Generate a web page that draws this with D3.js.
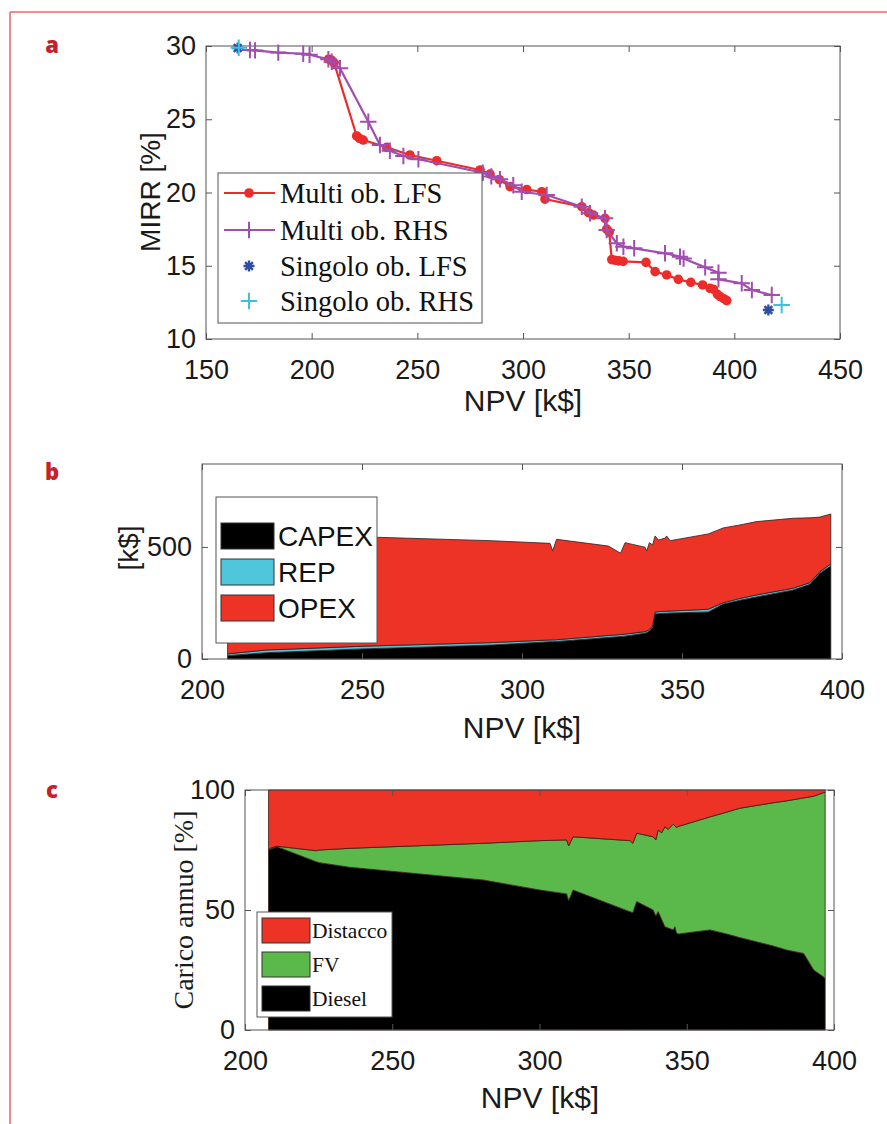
<!DOCTYPE html>
<html>
<head>
<meta charset="utf-8">
<script src="https://cdn.jsdelivr.net/npm/d3@7"></script>
<style>
  body { margin: 0; background: #fff; }
  svg { display: block; }
</style>
</head>
<body>
<svg id="fig" width="887" height="1124"></svg>
<script>
// ---- panel a : MIRR vs NPV ----
const lfsNpv  = [208.0, 209.5, 210.6, 221.3, 222.6, 224.4, 235.5, 246.5, 259.2, 279.7, 284.4, 288.8, 293.9, 301.8, 308.9, 310.4, 327.8, 331.0, 333.3, 338.8, 339.6, 340.8, 342.0, 343.5, 345.3, 347.4, 358.2, 362.5, 368.0, 373.5, 379.4, 385.0, 388.5, 390.1, 392.0, 393.3, 395.0, 396.4];
const lfsMirr = [29.10, 29.02, 28.85, 23.86, 23.70, 23.58, 23.08, 22.56, 22.17, 21.54, 21.26, 20.88, 20.40, 20.20, 20.05, 19.55, 19.03, 18.62, 18.46, 18.24, 17.50, 17.30, 15.42, 15.38, 15.33, 15.30, 15.23, 14.60, 14.37, 14.07, 13.87, 13.69, 13.46, 13.40, 13.05, 12.89, 12.75, 12.62];
const rhsNpv  = [170.8, 173.2, 184.2, 196.0, 199.0, 207.9, 209.5, 213.4, 226.8, 232.3, 237.0, 243.4, 250.5, 281.0, 285.0, 289.1, 295.4, 299.4, 311.2, 327.8, 331.7, 338.8, 339.6, 344.4, 347.5, 352.6, 367.2, 374.3, 376.0, 386.2, 392.5, 392.5, 403.5, 408.3, 417.7];
const rhsMirr = [29.73, 29.70, 29.55, 29.47, 29.40, 29.09, 28.93, 28.48, 24.83, 23.24, 22.85, 22.49, 22.27, 21.35, 21.10, 20.90, 20.50, 20.05, 19.83, 19.03, 18.58, 18.24, 17.44, 16.53, 16.30, 16.19, 15.85, 15.62, 15.50, 14.89, 14.53, 14.07, 13.80, 13.34, 13.00];
const singleLfs = [[165.0, 29.86], [416.1, 11.98]];
const singleRhs = [[165.5, 29.88], [422.4, 12.32]];
const legendA = ["Multi ob. LFS", "Multi ob. RHS", "Singolo ob. LFS", "Singolo ob. RHS"];

// ---- panel b : cost breakdown ----
const bNpv   = [208, 220, 250, 290, 308.75, 309.6, 310.8, 327, 330.8, 332.2, 338.4, 339, 339.8, 340.8, 341.6, 342.6, 344.7, 345.2, 346.3, 358.2, 362.9, 368.1, 373.3, 384.8, 390, 393.1, 396.5];
const bCapex = [15, 28, 45, 62, 77, 77, 78, 96, 100, 102, 115, 118, 125, 140, 201, 202, 204, 204, 205, 210, 245, 262, 277, 308, 333, 383, 415];
const bRep   = [8, 12, 12, 11, 8, 8, 8, 9, 9, 9, 7, 7, 7, 7, 9, 9, 9, 9, 9, 12, 6, 8, 9, 8, 8, 7, 9];
const bOpex  = [537, 515, 488, 455, 431, 398, 448, 399, 363, 408, 377, 358, 387, 362, 339, 320, 326, 336, 314, 336, 334, 328, 327, 312, 289, 243, 223];
const bKeys  = ["CAPEX", "REP", "OPEX"];

// ---- panel c : annual load share ----
const cNpv      = [208, 210.8, 224.2, 225.3, 235.6, 280.9, 300.2, 309.2, 309.9, 311.4, 330.7, 331.7, 333, 338.6, 339.5, 340.3, 341.5, 342.6, 343.7, 345.4, 346, 346.5, 347.1, 357.9, 363.6, 368, 379.4, 384, 389.7, 393.1, 396.4, 397];
const cDiesel   = [75, 76.4, 70.1, 69.7, 67.8, 62.5, 58.3, 56.7, 53.9, 58.3, 49.3, 48.9, 53.5, 50, 47.5, 49.3, 46, 43, 42.5, 41.7, 43, 40.5, 40, 41.7, 40, 38.5, 35, 33.3, 31.9, 25, 22.2, 21.5];
const cFv       = [0.5, 0.2, 4.6, 5.3, 7.9, 15.3, 20.6, 22.5, 22.8, 22.2, 29.6, 28.9, 28.5, 30.5, 31.7, 34, 36.2, 41.7, 41.1, 44.1, 42, 43.9, 44.8, 47.1, 50.8, 53.9, 59.7, 62.2, 64.8, 72.4, 76.7, 77.5];
const cDistacco = [24.5, 23.4, 25.3, 25, 24.3, 22.2, 21.1, 20.8, 23.3, 19.5, 21.1, 22.2, 18, 19.5, 20.8, 16.7, 17.8, 15.3, 16.4, 14.2, 15, 15.6, 15.2, 11.2, 9.2, 7.6, 5.3, 4.5, 3.3, 2.6, 1.1, 1];
const cKeys     = ["Diesel", "FV", "Distacco"];

const svg = d3.select("#fig");
const sans = "'Liberation Sans', Arial, sans-serif";
const serif = "'Liberation Serif', 'Times New Roman', serif";
const axisCol = "#555";
const tickFs = 27;

// red page frame
svg.append("line").attr("x1", 10).attr("y1", 12).attr("x2", 887).attr("y2", 12)
  .attr("stroke", "#e26a6a").attr("stroke-width", 1.5);
svg.append("line").attr("x1", 10).attr("y1", 12).attr("x2", 10).attr("y2", 1124)
  .attr("stroke", "#e26a6a").attr("stroke-width", 1.5);

// panel letters
[["a", 45], ["b", 472], ["c", 790]].forEach(([t, y]) => {
  svg.append("text").attr("x", 52).attr("y", y).attr("dy", "0.35em")
    .attr("text-anchor", "middle").attr("font-family", "'Open Sans', sans-serif")
    .attr("font-weight", "800").attr("font-size", 22).attr("fill", "#c8202a").text(t);
});

// box with inward ticks on all four sides (matlab style)
function drawAxes(x, y, xTicks, yTicks) {
  const [xl, xr] = x.range();
  const [yb, yt] = y.range();
  const fmt = d3.format("d");
  const g = svg.append("g");
  const styleAxis = sel => {
    sel.select(".domain").remove();
    sel.selectAll(".tick line").attr("stroke", axisCol);
    sel.selectAll(".tick text").attr("font-family", sans).attr("font-size", tickFs).attr("fill", "#1a1a1a");
  };
  g.append("g").attr("transform", `translate(0,${yb})`)
    .call(d3.axisBottom(x).tickValues(xTicks).tickSize(-6).tickPadding(21).tickFormat(fmt)).call(styleAxis);
  g.append("g").attr("transform", `translate(0,${yt})`)
    .call(d3.axisTop(x).tickValues(xTicks).tickSize(-6).tickFormat("")).call(styleAxis);
  g.append("g").attr("transform", `translate(${xl},0)`)
    .call(d3.axisLeft(y).tickValues(yTicks).tickSize(-6).tickPadding(10).tickFormat(fmt)).call(styleAxis);
  g.append("g").attr("transform", `translate(${xr},0)`)
    .call(d3.axisRight(y).tickValues(yTicks).tickSize(-6).tickFormat("")).call(styleAxis);
  g.append("rect").attr("x", xl).attr("y", yt).attr("width", xr - xl).attr("height", yb - yt)
    .attr("fill", "none").attr("stroke", axisCol).attr("stroke-width", 1);
  g.selectAll("text").attr("dy", null);
  g.selectAll("g.tick text").each(function() {
    const t = d3.select(this);
    if (t.attr("y") && +t.attr("y") > 0) t.attr("dy", "0.71em"); else t.attr("dy", "0.32em");
  });
}

function axisLabel(txt, x, y, rot, font, fs) {
  svg.append("text").attr("transform", `translate(${x},${y}) rotate(${rot})`)
    .attr("text-anchor", "middle").attr("dy", "0.35em")
    .attr("font-family", font).attr("font-size", fs).attr("fill", "#1a1a1a").text(txt);
}

// ===== panel a =====
{
  const x = d3.scaleLinear().domain([150, 450]).range([206, 840]);
  const y = d3.scaleLinear().domain([10, 30]).range([339, 46]);
  drawAxes(x, y, d3.range(150, 451, 50), [10, 15, 20, 25, 30]);

  const red = "#ec2c2a", purple = "#a24db0";
  const line = d3.line().x(d => x(d[0])).y(d => y(d[1]));
  const lfs = lfsNpv.map((v, i) => [v, lfsMirr[i]]);
  const rhs = rhsNpv.map((v, i) => [v, rhsMirr[i]]);
  const plus = d3.symbol(d3.symbolPlus, 90);

  svg.append("path").datum(lfs).attr("d", line).attr("fill", "none").attr("stroke", red).attr("stroke-width", 2.2);
  svg.selectAll(".lfsDot").data(lfs).join("circle").attr("class", "lfsDot")
    .attr("cx", d => x(d[0])).attr("cy", d => y(d[1])).attr("r", 4.8).attr("fill", red);

  svg.append("path").datum(rhs).attr("d", line).attr("fill", "none").attr("stroke", purple).attr("stroke-width", 2.2);
  svg.selectAll(".rhsPlus").data(rhs).join("path").attr("class", "rhsPlus")
    .attr("transform", d => `translate(${x(d[0])},${y(d[1])})`).attr("d", plus)
    .attr("fill", "none").attr("stroke", purple).attr("stroke-width", 2);

  // 8-arm asterisk
  const star = r => {
    const p = d3.path();
    for (let k = 0; k < 4; k++) {
      const a = k * Math.PI / 4;
      p.moveTo(-r * Math.cos(a), -r * Math.sin(a));
      p.lineTo(r * Math.cos(a), r * Math.sin(a));
    }
    return p.toString();
  };
  svg.selectAll(".sLfs").data(singleLfs).join("path").attr("class", "sLfs")
    .attr("transform", d => `translate(${x(d[0])},${y(d[1])})`).attr("d", star(5.5))
    .attr("fill", "none").attr("stroke", "#2e4ea6").attr("stroke-width", 2.4);
  svg.selectAll(".sRhs").data(singleRhs).join("path").attr("class", "sRhs")
    .attr("transform", d => `translate(${x(d[0])},${y(d[1])})`).attr("d", plus)
    .attr("fill", "none").attr("stroke", "#3dbfe0").attr("stroke-width", 2);

  axisLabel("MIRR [%]", 150, 192, -90, sans, 28);
  axisLabel("NPV [k$]", 523, 400, 0, sans, 30);

  // legend
  const lg = svg.append("g");
  lg.append("rect").attr("x", 218).attr("y", 173).attr("width", 264).attr("height", 150)
    .attr("fill", "#fff").attr("stroke", axisCol);
  const rows = [193, 230, 266, 301];
  legendA.forEach((t, i) => {
    const yy = rows[i];
    if (i === 0) {
      lg.append("line").attr("x1", 224).attr("x2", 275).attr("y1", yy).attr("y2", yy).attr("stroke", red).attr("stroke-width", 2.2);
      lg.append("circle").attr("cx", 249).attr("cy", yy).attr("r", 4.8).attr("fill", red);
    } else if (i === 1) {
      lg.append("line").attr("x1", 224).attr("x2", 275).attr("y1", yy).attr("y2", yy).attr("stroke", purple).attr("stroke-width", 2.2);
      lg.append("path").attr("transform", `translate(249,${yy})`).attr("d", plus).attr("fill", "none").attr("stroke", purple).attr("stroke-width", 2);
    } else if (i === 2) {
      lg.append("path").attr("transform", `translate(249,${yy})`).attr("d", star(5.5)).attr("fill", "none").attr("stroke", "#2e4ea6").attr("stroke-width", 2.4);
    } else {
      lg.append("path").attr("transform", `translate(249,${yy})`).attr("d", plus).attr("fill", "none").attr("stroke", "#3dbfe0").attr("stroke-width", 2);
    }
    lg.append("text").attr("x", 280).attr("y", yy).attr("dy", "0.35em")
      .attr("font-family", serif).attr("font-size", 28.5).attr("fill", "#111").text(t);
  });
}

// ===== panel b =====
{
  const x = d3.scaleLinear().domain([200, 400]).range([202, 842]);
  const y = d3.scaleLinear().domain([0, 870]).range([659, 464]);
  const rowsB = bNpv.map((v, i) => ({ npv: v, CAPEX: bCapex[i], REP: bRep[i], OPEX: bOpex[i] }));
  const series = d3.stack().keys(bKeys)(rowsB);
  const colors = { CAPEX: "#000000", REP: "#4fc6dc", OPEX: "#ec3326" };
  const area = d3.area().x(d => x(d.data.npv)).y0(d => y(d[0])).y1(d => y(d[1]));
  svg.append("g").selectAll("path").data(series).join("path")
    .attr("d", area).attr("fill", d => colors[d.key]).attr("stroke", "#222").attr("stroke-width", 0.8);

  drawAxes(x, y, d3.range(200, 401, 50), [0, 500]);
  axisLabel("[k$]", 128, 548, -90, sans, 28);
  axisLabel("NPV [k$]", 522, 727, 0, sans, 30);

  const lg = svg.append("g");
  lg.append("rect").attr("x", 216).attr("y", 497).attr("width", 161).attr("height", 146)
    .attr("fill", "#fff").attr("stroke", axisCol);
  const ys = [536, 572, 608];
  bKeys.forEach((k, i) => {
    lg.append("rect").attr("x", 221).attr("y", ys[i] - 13).attr("width", 53).attr("height", 26)
      .attr("fill", colors[k]).attr("stroke", "#333").attr("stroke-width", 1);
    lg.append("text").attr("x", 278).attr("y", ys[i]).attr("dy", "0.36em")
      .attr("font-family", sans).attr("font-size", 28).attr("fill", "#111").text(k);
  });
}

// ===== panel c =====
{
  const x = d3.scaleLinear().domain([200, 400]).range([245, 834]);
  const y = d3.scaleLinear().domain([0, 100]).range([1030, 790]);
  const rowsC = cNpv.map((v, i) => ({ npv: v, Diesel: cDiesel[i], FV: cFv[i], Distacco: cDistacco[i] }));
  const series = d3.stack().keys(cKeys)(rowsC);
  const colors = { Diesel: "#000000", FV: "#5bb84b", Distacco: "#ec3326" };
  const area = d3.area().x(d => x(d.data.npv)).y0(d => y(d[0])).y1(d => y(d[1]));
  svg.append("g").selectAll("path").data(series).join("path")
    .attr("d", area).attr("fill", d => colors[d.key]).attr("stroke", "#3a1a10").attr("stroke-width", 0.8);

  drawAxes(x, y, d3.range(200, 401, 50), [0, 50, 100]);
  axisLabel("Carico annuo [%]", 183, 910, -90, serif, 28);
  axisLabel("NPV [k$]", 540, 1097, 0, sans, 30);

  const lg = svg.append("g");
  lg.append("rect").attr("x", 257).attr("y", 912).attr("width", 135).attr("height", 105)
    .attr("fill", "#fff").attr("stroke", axisCol);
  const order = ["Distacco", "FV", "Diesel"];
  const ys = [930, 964, 998];
  order.forEach((k, i) => {
    lg.append("rect").attr("x", 262).attr("y", ys[i] - 12).attr("width", 48).attr("height", 25)
      .attr("fill", colors[k]).attr("stroke", "#333").attr("stroke-width", 1);
    lg.append("text").attr("x", 312).attr("y", ys[i]).attr("dy", "0.36em")
      .attr("font-family", serif).attr("font-size", 21.5).attr("fill", "#111").text(k);
  });
}
</script>
</body>
</html>
